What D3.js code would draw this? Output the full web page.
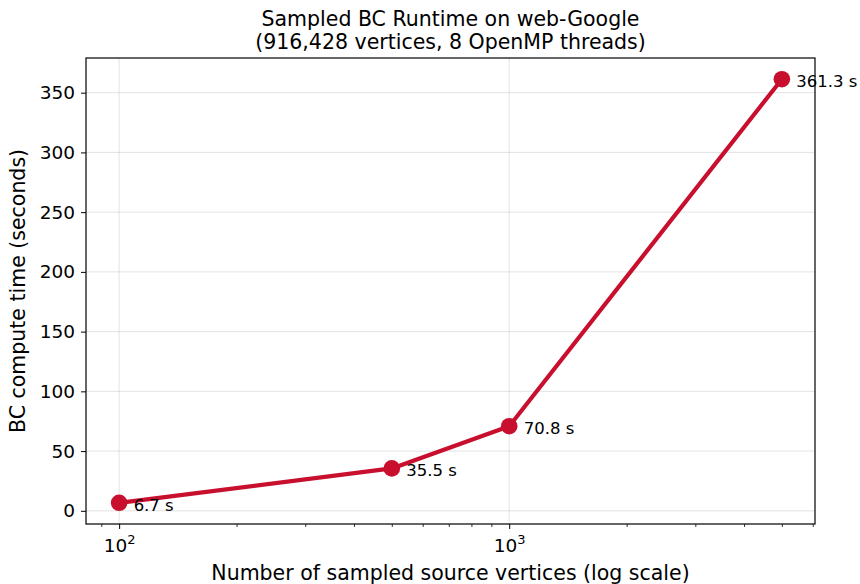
<!DOCTYPE html>
<html><head><meta charset="utf-8">
<script src="https://cdn.jsdelivr.net/npm/d3@7"></script>
<style>body{margin:0;background:#fff}svg{display:block}text{font-family:"DejaVu Sans",sans-serif;fill:#000}</style>
</head><body><svg id="c" width="860" height="584"></svg>
<script>
const samples = [100, 500, 1000, 5000];
const seconds = [6.7, 35.5, 70.8, 361.3];
const labels = ["6.7 s", "35.5 s", "70.8 s", "361.3 s"];
const yTicks = [0, 50, 100, 150, 200, 250, 300, 350];
const xMajor = [100, 1000];
const xMinor = [90, 200, 300, 400, 500, 600, 700, 800, 900, 2000, 3000, 4000, 5000, 6000];
const title1 = "Sampled BC Runtime on web-Google";
const title2 = "(916,428 vertices, 8 OpenMP threads)";
const xLabel = "Number of sampled source vertices (log scale)";
const yLabel = "BC compute time (seconds)";

const W = 860, H = 584;
const m = {l: 86, r: 45, t: 58, b: 60};
const svg = d3.select("#c");
const iw = W - m.l - m.r, ih = H - m.t - m.b;

const lx0 = Math.log10(100), lx1 = Math.log10(5000), pad = (lx1 - lx0) * 0.05;
const x = d3.scaleLog().domain([Math.pow(10, lx0 - pad), Math.pow(10, lx1 + pad)]).range([m.l, m.l + iw]);
const yr = d3.max(seconds) - d3.min(seconds);
const y = d3.scaleLinear().domain([d3.min(seconds) - yr * 0.05, d3.max(seconds) + yr * 0.05]).range([m.t + ih, m.t]);

const g = svg.append("g");
// grid
g.selectAll(".gy").data(yTicks).join("line").attr("x1", m.l).attr("x2", m.l + iw)
  .attr("y1", d => y(d)).attr("y2", d => y(d)).attr("stroke", "#b0b0b0").attr("stroke-opacity", 0.35).attr("stroke-width", 1);
g.selectAll(".gx").data(xMajor).join("line").attr("y1", m.t).attr("y2", m.t + ih)
  .attr("x1", d => x(d)).attr("x2", d => x(d)).attr("stroke", "#b0b0b0").attr("stroke-opacity", 0.35).attr("stroke-width", 1);

// axes
const yAxis = d3.axisLeft(y).tickValues(yTicks).tickSize(5).tickPadding(6).tickFormat(d3.format("d"));
const ga = svg.append("g").attr("transform", `translate(${m.l},0)`).call(yAxis);
ga.select(".domain").remove();
ga.selectAll("text").style("font-size", "18.5px").style("font-family", "DejaVu Sans");
ga.selectAll("line").attr("stroke", "#000").attr("stroke-width", 1);

const xAxis = d3.axisBottom(x).tickValues(xMajor).tickSize(5).tickPadding(5).tickFormat(() => "");
const gx = svg.append("g").attr("transform", `translate(0,${m.t + ih})`).call(xAxis);
gx.select(".domain").remove();
gx.selectAll("line").attr("stroke", "#000");
gx.selectAll(".tick").each(function(d) {
  const t = d3.select(this).append("text").attr("y", 28).attr("text-anchor", "middle").style("font-size", "18.5px").attr("fill", "#000");
  t.append("tspan").text("10");
  t.append("tspan").attr("dy", -8).style("font-size", "13px").text(String(Math.round(Math.log10(d))));
});
const xAxisMinor = d3.axisBottom(x).tickValues(xMinor).tickSize(3).tickFormat(() => "");
const gm = svg.append("g").attr("transform", `translate(0,${m.t + ih})`).call(xAxisMinor);
gm.select(".domain").remove();
gm.selectAll("line").attr("stroke", "#000").attr("stroke-width", 0.8);

// frame
svg.append("rect").attr("x", m.l).attr("y", m.t).attr("width", iw).attr("height", ih)
  .attr("fill", "none").attr("stroke", "#000").attr("stroke-width", 1.2);

// line
const col = "#c8102e";
const pts = samples.map((s, i) => [s, seconds[i], labels[i]]);
svg.append("path").datum(pts).attr("fill", "none").attr("stroke", col).attr("stroke-width", 4.2)
  .attr("stroke-linejoin", "round")
  .attr("d", d3.line().x(d => x(d[0])).y(d => y(d[1])));
svg.selectAll(".pt").data(pts).join("circle").attr("cx", d => x(d[0])).attr("cy", d => y(d[1]))
  .attr("r", 8.3).attr("fill", col);
svg.selectAll(".lb").data(pts).join("text").attr("x", d => x(d[0]) + 14.5).attr("y", d => y(d[1]) + 8)
  .style("font-size", "16.5px").text(d => d[2]);

// titles
const cx = m.l + iw / 2;
svg.append("text").attr("x", cx).attr("y", 26).attr("text-anchor", "middle").style("font-size", "20.5px").text(title1);
svg.append("text").attr("x", cx).attr("y", 49).attr("text-anchor", "middle").style("font-size", "20.5px").text(title2);
svg.append("text").attr("x", cx).attr("y", 580).attr("text-anchor", "middle").style("font-size", "20.5px").text(xLabel);
svg.append("text").attr("transform", `translate(25,${m.t + ih / 2}) rotate(-90)`).attr("text-anchor", "middle").style("font-size", "20.5px").text(yLabel);
</script></body></html>
